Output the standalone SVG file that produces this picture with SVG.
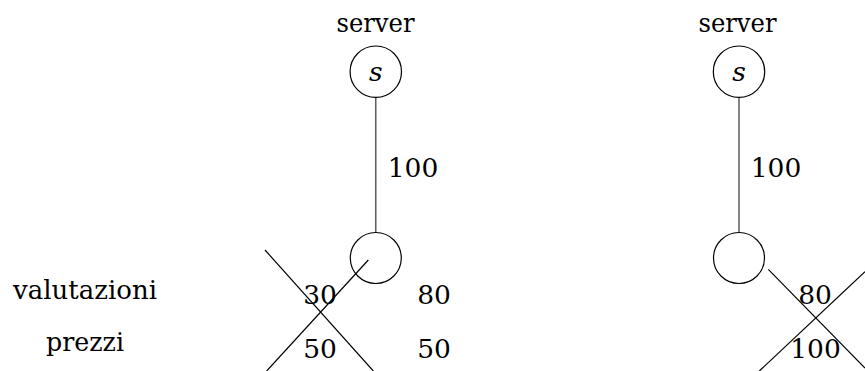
<svg xmlns="http://www.w3.org/2000/svg" width="865" height="371" viewBox="0 0 865 371">
<style>
text{font-family:'DejaVu Serif','Liberation Serif','Times New Roman',serif;font-size:26.5px;fill:#000;text-anchor:middle}
.it{font-style:italic}
.node{fill:none;stroke:#000;stroke-width:1.2}
.edge{stroke:#444;stroke-width:1.3;fill:none}
.cross{stroke:#000;stroke-width:1.2;fill:none}
</style>
<rect width="865" height="371" fill="#fff"/>
<g id="connectors">
<line class="edge" x1="375.8" y1="97.4" x2="375.8" y2="232.5"/>
<line class="edge" x1="739" y1="97.4" x2="739" y2="232.5"/>
<line class="cross" x1="368.3" y1="260" x2="266.7" y2="371"/>
<line class="cross" x1="265" y1="250" x2="373.3" y2="371"/>
<line class="cross" x1="768.3" y1="269.3" x2="865" y2="368"/>
<line class="cross" x1="759.3" y1="371" x2="865" y2="271.7"/>
</g>
<g id="server-left">
<text x="375.5" y="32" textLength="78" lengthAdjust="spacingAndGlyphs">server</text>
<circle class="node" cx="375.8" cy="71.7" r="25.7"/>
<text class="it" x="375.8" y="80.5">s</text>
</g>
<g id="client-left">
<circle class="node" cx="375.8" cy="258" r="25.5"/>
</g>
<g id="server-right">
<text x="737.5" y="32" textLength="78" lengthAdjust="spacingAndGlyphs">server</text>
<circle class="node" cx="739" cy="71.7" r="25.7"/>
<text class="it" x="739" y="80.5">s</text>
</g>
<g id="client-right">
<circle class="node" cx="739" cy="258" r="25.5"/>
</g>
<g id="labels">
<text x="413" y="177">100</text>
<text x="776" y="177">100</text>
<text x="85" y="298.5" textLength="144" lengthAdjust="spacingAndGlyphs">valutazioni</text>
<text x="85" y="351" textLength="78" lengthAdjust="spacingAndGlyphs">prezzi</text>
<text x="320" y="304">30</text>
<text x="434" y="304">80</text>
<text x="320" y="358">50</text>
<text x="434" y="358">50</text>
<text x="815" y="304">80</text>
<text x="815.5" y="358">100</text>
</g>
</svg>
